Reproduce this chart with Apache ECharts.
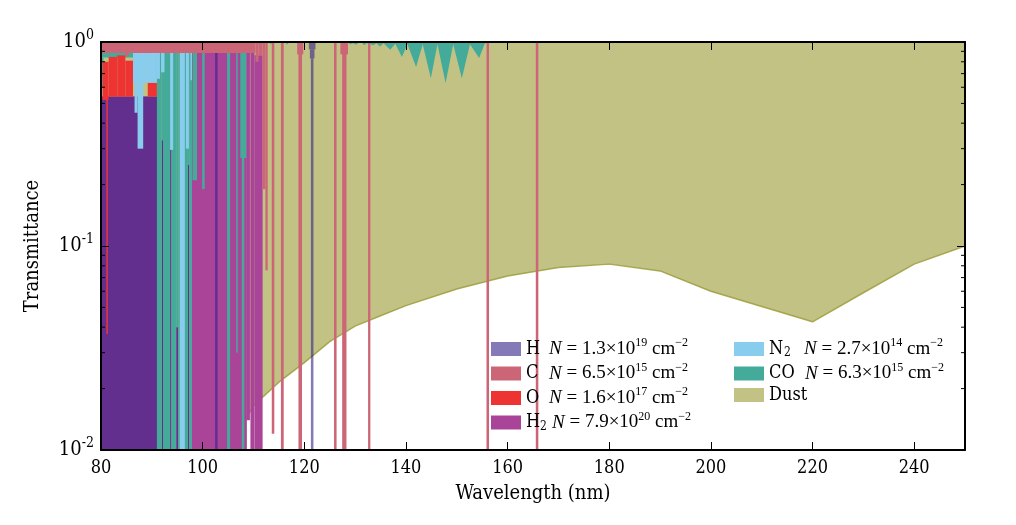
<!DOCTYPE html>
<html>
<head>
<meta charset="utf-8">
<script src="https://cdn.jsdelivr.net/npm/echarts@6/dist/echarts.min.js"></script>
<style>
  html, body { margin: 0; padding: 0; background: #fff; }
  #chart { width: 1016px; height: 525px; }
</style>
</head>
<body>
<div id="chart"></div>
<script>
// wavelength range (nm) and axis ticks
var WL_MIN = 80, WL_MAX = 250, WL_STEP = 20;
var T_MIN = 0.01, T_MAX = 1;
var minorTicks = [0.02, 0.03, 0.04, 0.05, 0.06, 0.07, 0.08, 0.09, 0.2, 0.3, 0.4, 0.5, 0.6, 0.7, 0.8, 0.9];

// absorption bands: [wl start, wl end, T low, T high]
var h2Bands = [
  [80.0, 91.2, 0.01, 0.54],
  [91.95, 92.2, 0.01, 0.33],
  [93.6, 93.85, 0.01, 0.296],
  [94.8, 95.2, 0.01, 0.04],
  [97.1, 97.35, 0.01, 0.25],
  [97.9, 108.7, 0.01, 0.883],
  [108.7, 109.3, 0.014, 0.883],
  [109.4, 110.2, 0.01, 0.883],
  [110.2, 111.8, 0.01, 0.86]
];
var hBands = [
  [80.0, 91.2, 0.01, 0.54],
  [91.95, 92.2, 0.01, 0.33],
  [93.6, 93.85, 0.01, 0.296],
  [94.8, 95.2, 0.01, 0.04],
  [97.1, 97.35, 0.01, 0.25],
  [102.45, 102.95, 0.01, 0.883],
  [120.9, 122.2, 0.92, 1],
  [121.1, 122.0, 0.83, 0.92],
  [121.3, 121.8, 0.01, 0.83]
];
var coBands = [
  [80.0, 86.3, 0.84, 0.883],
  [80.0, 80.5, 0.6, 0.84],
  [91.0, 91.95, 0.01, 0.883],
  [91.95, 92.2, 0.33, 0.883],
  [92.2, 93.6, 0.01, 0.883],
  [93.6, 93.85, 0.296, 0.883],
  [93.85, 94.8, 0.01, 0.883],
  [94.8, 95.2, 0.04, 0.883],
  [95.2, 97.1, 0.01, 0.883],
  [97.1, 97.35, 0.25, 0.883],
  [97.35, 97.9, 0.01, 0.883],
  [98.0, 98.9, 0.21, 0.883],
  [99.9, 100.4, 0.19, 0.883],
  [104.8, 105.4, 0.01, 0.883],
  [106.6, 106.9, 0.03, 0.883],
  [107.4, 108.6, 0.27, 0.883],
  [107.7, 108.2, 0.01, 0.27]
];
// CO band heads hanging from the top: [wl, T]
var coDips = [
  [113.0, 1], [113.4, 0.975], [113.8, 1],
  [116.3, 1], [116.6, 0.97], [117.0, 1],
  [128.6, 1], [129.0, 0.975], [129.6, 0.985], [130.2, 0.97], [130.8, 1],
  [131.2, 1], [131.8, 0.965], [132.3, 0.985], [133.0, 0.975], [133.6, 0.965],
  [134.2, 0.985], [134.9, 0.95], [135.6, 0.985], [136.9, 0.915], [137.9, 0.98],
  [139.2, 0.845], [140.3, 0.975], [142.0, 0.755], [143.3, 0.975], [144.9, 0.665],
  [146.2, 0.975], [147.8, 0.63], [149.3, 0.975], [151.0, 0.665], [152.6, 0.975],
  [154.4, 0.835], [155.5, 0.98], [156.0, 1]
];
var n2Bands = [
  [86.3, 89.2, 0.63, 0.883],
  [86.6, 87.2, 0.45, 0.63],
  [87.2, 88.3, 0.30, 0.63],
  [89.2, 91.0, 0.63, 0.883],
  [91.0, 91.6, 0.66, 0.883],
  [91.8, 92.5, 0.71, 0.883],
  [93.6, 94.2, 0.296, 0.883],
  [95.5, 96.5, 0.01, 0.883],
  [96.7, 97.3, 0.30, 0.883],
  [97.6, 97.9, 0.65, 0.883]
];
var oBands = [
  [80.3, 81.5, 0.52, 0.80],
  [81.5, 83.2, 0.54, 0.845],
  [83.2, 84.8, 0.54, 0.86],
  [84.8, 86.3, 0.54, 0.81],
  [89.2, 91.0, 0.54, 0.63],
  [81.05, 81.35, 0.037, 0.54]
];
var cBands = [
  [80.0, 110.4, 0.883, 1],
  [84.8, 85.4, 0.85, 0.883],
  [110.4, 111.0, 0.80, 1],
  [111.0, 111.8, 0.86, 1],
  [111.8, 112.35, 0.19, 1],
  [112.35, 112.8, 0.076, 1],
  [113.6, 114.1, 0.012, 1],
  [115.4, 115.95, 0.01, 1],
  [118.6, 119.8, 0.87, 1],
  [118.85, 119.55, 0.01, 1],
  [125.85, 126.35, 0.01, 1],
  [127.1, 128.6, 0.87, 1],
  [127.45, 128.3, 0.01, 1],
  [132.55, 133.0, 0.01, 1],
  [155.85, 156.35, 0.01, 1],
  [165.55, 166.05, 0.01, 1]
];
// dust extinction curve: [wl, T]
var dustCurve = [
  [80, 0.004], [100, 0.0075], [106, 0.011], [110, 0.0165], [115, 0.0215], [120, 0.0268],
  [125, 0.034], [130, 0.0405], [135, 0.0455], [140, 0.051], [150, 0.0615], [160, 0.0713],
  [170, 0.0785], [180, 0.0815], [190, 0.0755], [200, 0.060], [210, 0.0505], [220, 0.0425],
  [230, 0.059], [240, 0.0815], [250, 0.1]
];

// legend text
var legendLeft = ['H', 'C', 'O', 'H2'];
var legendRight = ['N2', 'CO', 'Dust'];
var densityMantissa = { H: '1.3', C: '6.5', O: '1.6', H2: '7.9', N2: '2.7', CO: '6.3' };
var densityExponent = { H: '19', C: '15', O: '17', H2: '20', N2: '14', CO: '15' };

var serif = "'DejaVu Serif Condensed', 'DejaVu Serif', serif";
var mathFont = "'Liberation Serif', 'DejaVu Serif', serif";

var colH = 'rgba(51,34,136,0.6)';
var colC = '#cc6677';
var colO = '#ee3333';
var colH2 = '#aa4499';
var colN2 = '#88ccee';
var colCO = '#44aa99';
var colDust = 'rgba(153,153,51,0.6)';

function bandSeries(name, color, data, z) {
  return {
    name: name,
    type: 'custom',
    data: data,
    z: z,
    encode: { x: [0, 1], y: [2, 3] },
    itemStyle: { color: color },
    silent: true,
    animation: false,
    renderItem: function(params, api) {
      var a = api.coord([api.value(0), api.value(3)]);
      var b = api.coord([api.value(1), api.value(2)]);
      return {
        type: 'rect',
        shape: { x: a[0], y: a[1], width: Math.max(b[0] - a[0], 1), height: b[1] - a[1] },
        style: { fill: color }
      };
    }
  };
}

function speciesLabel(name, w) {
  if (name === 'H2') return '{sp1|H}{sub1|2}';
  if (name === 'N2') return '{sp2|N}{sub2|2}';
  return '{' + (w === 1 ? 'sp' : 'spw') + '|' + name + '}';
}

function legendText(col) {
  return function(name) {
    var s = speciesLabel(name, col);
    if (!densityMantissa[name]) return s;
    return s + '{i|N}{m| = ' + densityMantissa[name] + '×10}{sup|' + densityExponent[name] +
      '}{m| cm}{sup|−2}';
  };
}

var legendRich = {
  sp: { fontFamily: serif, fontSize: 18, width: 23, lineHeight: 20 },
  spw: { fontFamily: serif, fontSize: 18, width: 36, lineHeight: 20 },
  sp1: { fontFamily: serif, fontSize: 18, width: 14, lineHeight: 20 },
  sub1: { fontFamily: serif, fontSize: 12, width: 12, lineHeight: 20, padding: [8, 0, 0, 0] },
  sp2: { fontFamily: serif, fontSize: 18, width: 15, lineHeight: 20 },
  sub2: { fontFamily: serif, fontSize: 12, width: 20, lineHeight: 20, padding: [8, 0, 0, 0] },
  i: { fontFamily: mathFont, fontStyle: 'italic', fontSize: 19, lineHeight: 20 },
  m: { fontFamily: mathFont, fontSize: 19, lineHeight: 20 },
  sup: { fontFamily: mathFont, fontSize: 12, lineHeight: 20, padding: [0, 0, 12, 0] }
};

var chart = echarts.init(document.getElementById('chart'), null, { renderer: 'canvas' });

var axisLineStyle = { color: '#000', width: 2 };
var tickStyle = { color: '#000', width: 1 };

var series = [
  {
    name: 'Dust',
    type: 'line',
    z: 1,
    data: dustCurve,
    showSymbol: false,
    symbol: 'none',
    clip: true,
    itemStyle: { color: colDust },
    lineStyle: { color: 'rgba(153,153,51,0.8)', width: 1.5 },
    areaStyle: { color: colDust, origin: 'end', opacity: 1 },
    animation: false,
    silent: true
  },
  bandSeries('H2', colH2, h2Bands, 2),
  bandSeries('H', colH, hBands, 3),
  bandSeries('CO', colCO, coBands, 4),
  {
    name: 'CO',
    type: 'line',
    z: 4,
    data: coDips,
    showSymbol: false,
    symbol: 'none',
    itemStyle: { color: colCO },
    lineStyle: { width: 0 },
    areaStyle: { color: colCO, origin: 'end', opacity: 1 },
    animation: false,
    silent: true
  },
  bandSeries('N2', colN2, n2Bands, 5),
  bandSeries('O', colO, oBands, 6),
  bandSeries('C', colC, cBands, 7),
  {
    type: 'custom',
    data: minorTicks.map(function(v) { return [WL_MIN, v]; }),
    encode: { x: 0, y: 1 },
    z: 20,
    silent: true,
    animation: false,
    renderItem: function(params, api) {
      var l = api.coord([WL_MIN, api.value(1)]);
      var r = api.coord([WL_MAX, api.value(1)]);
      return {
        type: 'group',
        children: [
          { type: 'line', shape: { x1: l[0], y1: l[1], x2: l[0] + 4, y2: l[1] }, style: { stroke: '#000', lineWidth: 1 } },
          { type: 'line', shape: { x1: r[0] - 4, y1: r[1], x2: r[0], y2: r[1] }, style: { stroke: '#000', lineWidth: 1 } }
        ]
      };
    }
  }
];

var legendBase = {
  orient: 'vertical',
  top: 332,
  z: 30,
  itemWidth: 30,
  itemHeight: 14,
  itemGap: 0.5,
  icon: 'rect',
  selectedMode: false
};

var option = {
  backgroundColor: '#fff',
  animation: false,
  grid: { left: 101, right: 51, top: 42, bottom: 75 },
  legend: [
    Object.assign({}, legendBase, {
      data: legendLeft,
      left: 486,
      formatter: legendText(1),
      textStyle: { color: '#000', rich: legendRich }
    }),
    Object.assign({}, legendBase, {
      data: legendRight,
      left: 729,
      formatter: legendText(2),
      textStyle: { color: '#000', rich: legendRich }
    })
  ],
  xAxis: [
    {
      type: 'value',
      min: WL_MIN,
      max: WL_MAX,
      interval: WL_STEP,
      position: 'bottom',
      z: 20,
      name: 'Wavelength (nm)',
      nameLocation: 'middle',
      nameGap: 34,
      nameTextStyle: { fontFamily: serif, fontSize: 20, color: '#000' },
      axisLine: { show: true, onZero: false, lineStyle: axisLineStyle },
      axisTick: { show: true, inside: true, length: 8, lineStyle: tickStyle },
      axisLabel: {
        fontFamily: serif, fontSize: 18, color: '#000', margin: 9,
        formatter: function(v) { return v === WL_MAX ? '' : String(v); }
      },
      splitLine: { show: false }
    },
    {
      type: 'value',
      min: WL_MIN,
      max: WL_MAX,
      interval: WL_STEP,
      position: 'top',
      z: 20,
      axisLine: { show: true, onZero: false, lineStyle: axisLineStyle },
      axisTick: { show: true, inside: true, length: 8, lineStyle: tickStyle },
      axisLabel: { show: false },
      splitLine: { show: false }
    }
  ],
  yAxis: [
    {
      type: 'log',
      logBase: 10,
      min: T_MIN,
      max: T_MAX,
      position: 'left',
      z: 20,
      name: 'Transmittance',
      nameLocation: 'middle',
      nameGap: 58,
      nameTextStyle: { fontFamily: serif, fontSize: 20, color: '#000' },
      axisLine: { show: true, onZero: false, lineStyle: axisLineStyle },
      axisTick: { show: true, inside: true, length: 8, lineStyle: tickStyle },
      axisLabel: {
        margin: 7,
        color: '#000',
        formatter: function(v) {
          var e = Math.round(Math.log10(v));
          return '{b|10}{e|' + (e < 0 ? '-' + (-e) : e) + '}';
        },
        rich: {
          b: { fontFamily: serif, fontSize: 20, lineHeight: 22 },
          e: { fontFamily: serif, fontSize: 14, lineHeight: 22, padding: [0, 0, 13, 0] }
        }
      },
      splitLine: { show: false }
    },
    {
      type: 'log',
      logBase: 10,
      min: T_MIN,
      max: T_MAX,
      position: 'right',
      z: 20,
      axisLine: { show: true, onZero: false, lineStyle: axisLineStyle },
      axisTick: { show: true, inside: true, length: 8, lineStyle: tickStyle },
      axisLabel: { show: false },
      splitLine: { show: false }
    }
  ],
  series: series
};

chart.setOption(option);
window.addEventListener('resize', function() { chart.resize(); });
</script>
</body>
</html>
